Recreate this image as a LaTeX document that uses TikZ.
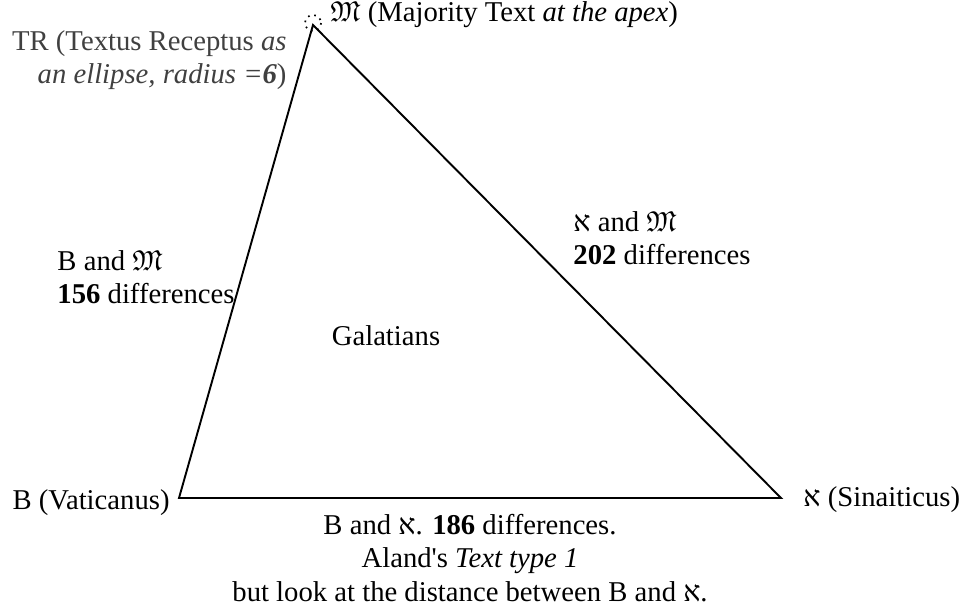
\documentclass[tikz,border=0pt]{standalone}
\usepackage{fontspec}
\usepackage{amssymb}
\setmainfont{Liberation Serif}
\newfontfamily\hebfont{Liberation Serif}
\usetikzlibrary{positioning}
\definecolor{trgray}{HTML}{404040}
\newcommand{\alef}{{\hebfont ^^^^05d0}}
\newcommand{\majtext}{$\mathfrak{M}$}

\begin{document}
\begin{tikzpicture}[x=0.4184pt, y=-0.4184pt,
  lbl/.style={inner sep=0pt, font=\fontsize{12}{14}\selectfont},
  side/.style={line width=0.8pt}
]
\useasboundingbox (0,0) rectangle (963,607);

% Corners of the triangle
\coordinate (apex) at (313,25);
\coordinate (vat)  at (179,498);
\coordinate (sin)  at (781,498);

\draw[side] (apex) -- (vat) -- (sin) -- cycle;
\draw[dotted, line width=0.7pt] (313,23) circle[radius=8];

% Corner labels
\node[lbl, anchor=west] (majlbl) at (330,15) {\majtext{} (Majority Text \textit{at the apex})};
\node[lbl, anchor=east, align=right, text=trgray] (trlbl) at (287,60)
  {TR (Textus Receptus \textit{as}\\ \textit{an ellipse, radius =\textbf{6}})};
\node[lbl, anchor=east] (vatlbl) at (170,503) {B (Vaticanus)};
\node[lbl, anchor=west] (sinlbl) at (803,500) {\alef{} (Sinaiticus)};

% Edge labels
\node[lbl, anchor=west, align=left] (bmlbl) at (57,277) {B and \majtext\\ \textbf{156} differences};
\node[lbl, anchor=west, align=left] (smlbl) at (573,238) {\alef{} and \majtext\\ \textbf{202} differences};
\node[lbl, align=center] (bslbl) at (470,558)
  {B and \alef. \textbf{186} differences.\\ Aland\textquotesingle s \textit{Text type 1}\\ but look at the distance between B and \alef.};

\node[lbl] (book) at (386,336) {Galatians};
\end{tikzpicture}
\end{document}
